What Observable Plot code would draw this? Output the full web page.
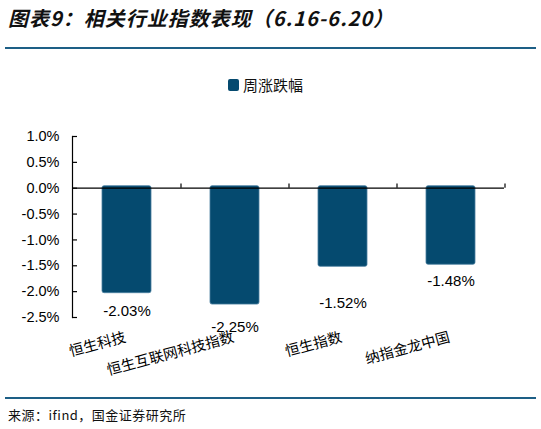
<!DOCTYPE html>
<html><head><meta charset="utf-8">
<script src="https://cdn.jsdelivr.net/npm/d3@7"></script>
<script src="https://cdn.jsdelivr.net/npm/@observablehq/plot@0.6"></script>
<style>
body{margin:0;background:#fff;}
#wrap{position:relative;width:541px;height:429px;overflow:hidden;font-family:"Liberation Sans",Arial,sans-serif;}
#title{position:absolute;left:8px;top:4px;font:italic bold 20px "Noto Sans CJK SC";color:#111;white-space:nowrap;line-height:28px;letter-spacing:1px;}
.rule{position:absolute;left:5px;width:531px;height:2px;background:#1d5f86;}
#legend{position:absolute;left:228px;top:74px;display:flex;align-items:center;font:15px "Noto Sans CJK SC";color:#111;line-height:22px;}
#legend .sw{width:11px;height:12px;background:#054a6f;border-radius:2px;margin-right:4px}
#caption{position:absolute;left:8px;top:405px;font:13px "Noto Sans CJK SC";color:#111;line-height:20px;white-space:nowrap;letter-spacing:0.5px;}
#chart{position:absolute;left:0;top:0;}
</style></head>
<body>
<div id="wrap">
  <div id="chart"></div>
  <div id="title"></div>
  <div class="rule" style="top:47px"></div>
  <div id="legend"><span class="sw"></span><span id="legtext"></span></div>
  <div class="rule" style="top:397px"></div>
  <div id="caption"></div>
</div>
<script>
const categories = ["恒生科技", "恒生互联网科技指数", "恒生指数", "纳指金龙中国"];
const weeklyChange = [-2.03, -2.25, -1.52, -1.48];
const yTicks = [1.0, 0.5, 0.0, -0.5, -1.0, -1.5, -2.0, -2.5];
const seriesName = "周涨跌幅";
const titleText = "图表9：相关行业指数表现（6.16-6.20）";
const sourceText = "来源：ifind，国金证券研究所";
// label offsets (style)
const labelDy = [18, 23, 36, 16];

document.getElementById("title").textContent = titleText;
document.getElementById("legtext").textContent = seriesName;
document.getElementById("caption").textContent = sourceText;

const data = categories.map((c, i) => ({cat: c, value: weeklyChange[i], dy: labelDy[i]}));
const pct1 = v => v.toFixed(1) + "%";
const pct2 = v => v.toFixed(2) + "%";
const cjk = "Noto Sans CJK SC";
const num = "Liberation Sans, Arial, sans-serif";

const chart = Plot.plot({
  width: 541, height: 429,
  marginLeft: 72, marginRight: 37, marginTop: 136, marginBottom: 112,
  style: {background: "transparent", fontFamily: num},
  x: {domain: categories, paddingInner: 0.55, paddingOuter: 0.275, axis: null},
  y: {domain: [-2.5, 1.0], axis: null},
  marks: [
    Plot.barY(data, {x: "cat", y1: 0, y2: "value", fill: "#054a6f", stroke: "#4a7fa0", strokeWidth: 0.8, rx: 2, insetTop: -2}),
    Plot.ruleY([0], {stroke: "#000", strokeWidth: 1.2}),
    Plot.frame({anchor: "left", stroke: "#000", strokeWidth: 1.2}),
    Plot.axisY({ticks: yTicks, label: null, tickSize: -5, tickPadding: 18, tickFormat: pct1, fontSize: 14.5, fill: "#000", stroke: "#000", strokeWidth: 1.2}),
    Plot.ruleX(categories, {x: d => d, dx: 54, y1: 0, y2: 0.08, stroke: "#000", strokeWidth: 1.2}),
    ...data.map(d => Plot.text([d], {x: "cat", y: "value", dy: d.dy, text: v => pct2(v.value), fontSize: 15, fill: "#000", fontFamily: num})),
    Plot.text(data, {x: "cat", frameAnchor: "bottom", dy: 14, dx: -3, text: "cat", rotate: -15, textAnchor: "end", lineAnchor: "top", fontSize: 14.5, fill: "#000", fontFamily: cjk})
  ]
});
document.getElementById("chart").appendChild(chart);
</script>
</body></html>
